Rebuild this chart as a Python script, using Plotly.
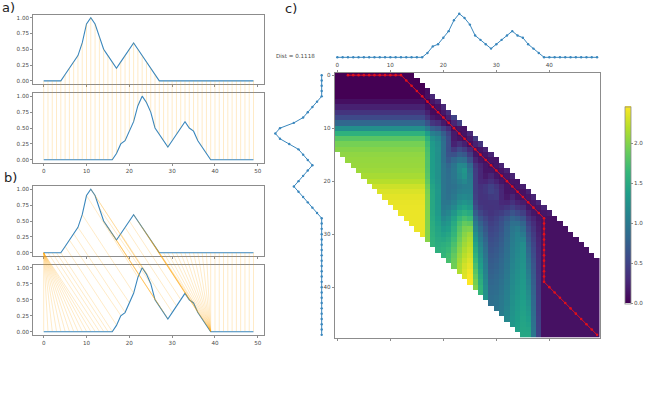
import numpy as np
import plotly.graph_objects as go

# Values
series_a = [0, 0, 0, 0, 0, .1, .2, .3, .4, .6, .9, 1, .9, .7, .5, .4, .3, .2, .3, .4, .5, .6, .5, .4, .3, .2, .1,
            0, 0, 0, 0, 0, 0, 0, 0, 0, 0, 0, 0, 0, 0, 0, 0, 0, 0, 0, 0, 0, 0, 0]
series_b = [0, 0, 0, 0, 0, 0, 0, 0, 0, 0, 0, 0, 0, 0, 0, 0, 0, .1, .25, .3, .45, .6, .85, 1, .9, .75, .5, .4, .3,
            .2, .3, .4, .5, .6, .5, .45, .3, .2, .1, 0, 0, 0, 0, 0, 0, 0, 0, 0, 0, 0]
path_rows = [0, 0, 0, 0, 0, 0, 0, 0, 0, 0, 0, 0, 0, 1, 2, 3, 4, 5, 6, 7, 8, 9, 10, 11, 12, 13, 14, 15, 16, 17, 18,
             19, 20, 21, 22, 23, 24, 25, 26, 27, 28, 29, 30, 31, 32, 33, 34, 35, 36, 37, 38, 39, 40, 41, 42, 43,
             44, 45, 46, 47, 48, 49]
path_cols = [0, 1, 2, 3, 4, 5, 6, 7, 8, 9, 10, 11, 12, 13, 14, 15, 16, 17, 18, 19, 20, 21, 22, 23, 24, 25, 26, 27,
             28, 29, 30, 31, 32, 33, 34, 35, 36, 37, 38, 39, 39, 39, 39, 39, 39, 39, 39, 39, 39, 39, 39, 39, 40,
             41, 42, 43, 44, 45, 46, 47, 48, 49]
red_start = 2
band_radius = 14
x_ticks = [0, 10, 20, 30, 40, 50]
heat_ticks = [0, 10, 20, 30, 40]
y_ticks = [0, 0.25, 0.5, 0.75, 1.0]
cbar_ticks = [0, 0.5, 1.0, 1.5, 2.0]
dist_label = "Dist = 0.1118"

W, H = 664, 402
BLUE = "#3a87bd"
GREY = "#8c8c8c"
TXT = "#4a4a4a"
FONT = "DejaVu Sans"
TICKF = dict(family=FONT, size=5.6, color=TXT)
ORANGE = "rgba(255,165,0,0.28)"

xs = list(range(len(series_a)))

# The heatmap is the accumulated DTW cost of the two series above, inside the band
n = len(series_a)
acc = np.full((n, n), np.inf)
for i in range(n):
    for j in range(max(0, i - band_radius), min(n, i + band_radius + 1)):
        best = 0.0 if i == 0 and j == 0 else min(
            acc[i - 1, j] if i else np.inf,
            acc[i, j - 1] if j else np.inf,
            acc[i - 1, j - 1] if i and j else np.inf,
        )
        acc[i, j] = (series_a[i] - series_b[j]) ** 2 + best
cost = np.sqrt(acc)
cost[~np.isfinite(cost)] = np.nan


def xdom(l, r):
    return [l / W, r / W]


def ydom(t, b):
    return [1 - b / H, 1 - t / H]


fig = go.Figure()
layout = dict(width=W, height=H, margin=dict(l=0, r=0, t=0, b=0), paper_bgcolor="white",
              plot_bgcolor="rgba(0,0,0,0)", showlegend=False, font=dict(family=FONT))

PL, PR = 33.2, 264
XR = [-2.45, 51.45]
YR = [-0.05, 1.05]
panels = [(14.5, 84, False), (93, 163, True), (186, 256, False), (264.5, 335, True)]


def line_axis(idx, x_labels, t, b):
    layout[f"xaxis{idx}"] = dict(domain=xdom(PL, PR), range=XR, tickvals=x_ticks, showticklabels=x_labels,
                                 ticks="outside", ticklen=2, tickwidth=0.7, tickcolor=GREY, showgrid=False,
                                 zeroline=False, showline=True, linecolor=GREY, linewidth=1, mirror=True,
                                 tickfont=TICKF, anchor=f"y{idx}")
    layout[f"yaxis{idx}"] = dict(domain=ydom(t, b), range=YR, tickvals=y_ticks, tickformat=".2f",
                                 ticks="outside", ticklen=2, tickwidth=0.7, tickcolor=GREY, showgrid=False,
                                 zeroline=False, showline=True, linecolor=GREY, linewidth=1, mirror=True,
                                 tickfont=TICKF, anchor=f"x{idx}")


for k, (t, b, lab) in enumerate(panels):
    idx = k + 1
    line_axis(idx, lab, t, b)
    vals = series_b if lab else series_a
    fig.add_trace(go.Scatter(x=xs, y=vals, mode="lines", line=dict(color=BLUE, width=1.1),
                             xaxis="x" if idx == 1 else f"x{idx}", yaxis="y" if idx == 1 else f"y{idx}",
                             hoverinfo="skip"))

# Heatmap (axis 5), top series (6), left series (7)
HL, HR, HT, HB = 334.7, 599.7, 72.5, 337.5
layout["xaxis5"] = dict(domain=xdom(HL, HR), range=[-0.5, 49.5], side="top", tickvals=heat_ticks, ticks="outside",
                        ticklen=2, tickwidth=0.7, tickcolor=GREY, showgrid=False, zeroline=False, showline=True,
                        linecolor=GREY, linewidth=1, mirror="ticks", tickfont=TICKF, anchor="y5")
layout["yaxis5"] = dict(domain=ydom(HT, HB), range=[49.5, -0.5], tickvals=heat_ticks, ticks="outside", ticklen=2,
                        tickwidth=0.7, tickcolor=GREY, showgrid=False, zeroline=False, showline=True,
                        linecolor=GREY, linewidth=1, mirror=True, tickfont=TICKF, anchor="x5")
fig.add_trace(go.Heatmap(z=cost.tolist(), x=xs, y=xs, colorscale="Viridis", zmin=0, zmax=float(np.nanmax(cost)),
                         xaxis="x5", yaxis="y5", hoverinfo="skip", xgap=0, ygap=0,
                         colorbar=dict(x=625 / W, xanchor="left", y=1 - 205 / H, yanchor="middle",
                                       len=196.5 / H, thickness=5.7, xpad=0, ypad=0, outlinecolor=GREY,
                                       outlinewidth=0.8, tickvals=cbar_ticks, tickformat=".1f", ticks="outside",
                                       ticklen=2, tickwidth=0.7, tickcolor=GREY, tickfont=TICKF)))
fig.add_trace(go.Scatter(x=path_cols[red_start:], y=path_rows[red_start:], mode="lines+markers",
                         line=dict(color="#e0101c", width=1), marker=dict(color="#e0101c", size=2.6),
                         xaxis="x5", yaxis="y5", hoverinfo="skip"))

hidden = dict(visible=False, showgrid=False, zeroline=False)
layout["xaxis6"] = dict(domain=xdom(HL, HR), range=[-0.5, 49.5], anchor="y6", **hidden)
layout["yaxis6"] = dict(domain=ydom(11.5, 59.5), range=YR, anchor="x6", **hidden)
fig.add_trace(go.Scatter(x=xs, y=series_b, mode="lines+markers", line=dict(color=BLUE, width=1),
                         marker=dict(color=BLUE, size=2.4), xaxis="x6", yaxis="y6", hoverinfo="skip"))
layout["xaxis7"] = dict(domain=xdom(273, 324), range=[1.05, -0.05], anchor="y7", **hidden)
layout["yaxis7"] = dict(domain=ydom(HT, HB), range=[49.5, -0.5], anchor="x7", **hidden)
fig.add_trace(go.Scatter(x=series_a, y=xs, mode="lines+markers", line=dict(color=BLUE, width=1),
                         marker=dict(color=BLUE, size=2.4), xaxis="x7", yaxis="y7", hoverinfo="skip"))


# Connector overlays: one y axis spanning a pair of panels, in the upper panel's value units
def connector(idx_ax, upper, lower, pairs):
    (t1, b1, _), (t2, b2, _) = upper, lower
    per_px = (YR[1] - YR[0]) / (b1 - t1)
    offset = (t2 - t1) * per_px
    layout[f"xaxis{idx_ax}"] = dict(domain=xdom(PL, PR), range=XR, anchor=f"y{idx_ax}", **hidden)
    layout[f"yaxis{idx_ax}"] = dict(domain=ydom(t1, b2), range=[YR[1] - (b2 - t1) * per_px, YR[1]],
                                    anchor=f"x{idx_ax}", **hidden)
    cx, cy = [], []
    for i, j in pairs:
        cx += [i, j, None]
        cy += [series_a[i], series_b[j] - offset, None]
    fig.add_trace(go.Scatter(x=cx, y=cy, mode="lines", line=dict(color=ORANGE, width=0.8),
                             xaxis=f"x{idx_ax}", yaxis=f"y{idx_ax}", hoverinfo="skip"))


connector(8, panels[0], panels[1], [(i, i) for i in xs])
connector(9, panels[2], panels[3], list(zip(path_rows, path_cols)))

texts = [("a)", 1, 7.5), ("b)", 2.5, 177), ("c)", 284, 8.5)]
annotations = [dict(text=s, x=px / W, y=1 - py / H, xref="paper", yref="paper", xanchor="left", yanchor="middle",
                    showarrow=False, font=dict(family=FONT, size=13, color="#222222"), borderpad=0)
               for s, px, py in texts]
annotations.append(dict(text=dist_label, x=275 / W, y=1 - 55.5 / H, xref="paper", yref="paper", xanchor="left",
                        yanchor="middle", showarrow=False, font=TICKF, borderpad=0))
layout["annotations"] = annotations
fig.update_layout(**layout)
fig.write_html("out.html", config={"displayModeBar": False}, post_script="document.body.style.margin='0';")
